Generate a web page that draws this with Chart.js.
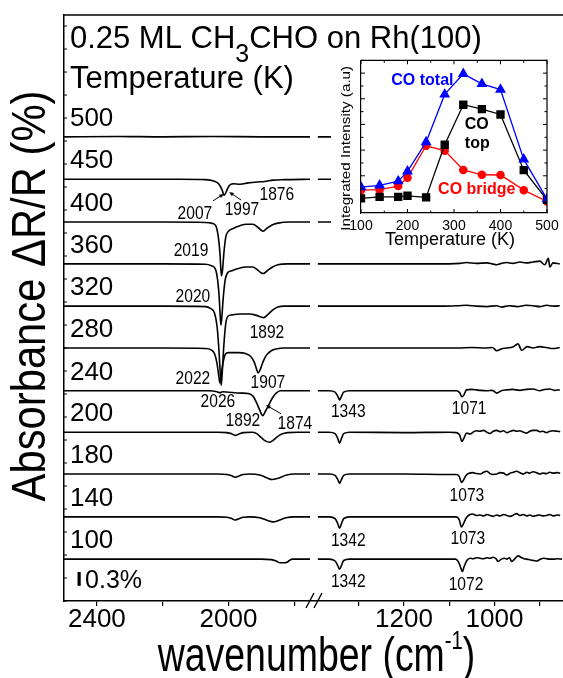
<!DOCTYPE html>
<html><head><meta charset="utf-8">
<script src="https://cdn.jsdelivr.net/npm/chart.js@4/dist/chart.umd.min.js"></script>
<style>
html,body{margin:0;padding:0;background:#fff;}
#wrap{position:relative;width:563px;height:678px;overflow:hidden;background:#fff;}
#main{position:absolute;left:0;top:0;width:563px;height:678px;}
#inset{position:absolute;left:331px;top:54px;width:232px;height:200px;background:#fff;}
</style></head><body>
<div id="wrap"><canvas id="main" width="563" height="678"></canvas><canvas id="inset" width="232" height="200"></canvas></div>
<script>
// ---------- main spectra data (wavenumber cm-1, ΔR/R % relative to each trace baseline) ----------
const temperatures = [500,450,400,360,320,280,240,200,180,140,100];
const baselines = [10.09,9.17,8.24,7.33,6.41,5.50,4.57,3.67,2.76,1.83,0.91];

const s500L = [[2500,0],[2340,0.01],[2200,0],[2050,0.01],[1900,0],[1752,0]];
const s500R = [[1390,0],[1300,0],[850,0]];
const s450L = [[2500,0],[2150,0],[2070,-0.01],[2045,-0.04],[2030,-0.1],[2020,-0.22],[2013,-0.35],[2006,-0.26],[1998,-0.14],[1985,-0.1],[1965,-0.11],[1940,-0.08],[1913,-0.06],[1890,-0.05],[1864,-0.02],[1830,-0.01],[1752,0]];
const s450R = [[1390,0],[1300,0],[850,0]];
const s400L = [[2500,0],[2200,0],[2070,-0.01],[2050,-0.03],[2038,-0.09],[2031,-0.32],[2026,-0.67],[2023,-1.04],[2021,-1.17],[2018,-1.04],[2014,-0.68],[2008,-0.32],[2001,-0.21],[1986,-0.14],[1965,-0.08],[1945,-0.05],[1926,-0.05],[1910,-0.12],[1900,-0.18],[1895,-0.2],[1882,-0.13],[1866,-0.06],[1853,-0.03],[1813,0],[1752,0]];
const s400R = [[1390,0],[1300,0],[850,0]];
const s360L = [[2500,0],[2200,0],[2070,-0.01],[2052,-0.04],[2040,-0.11],[2033,-0.35],[2028,-0.75],[2025,-1.15],[2023,-1.33],[2020,-1.15],[2016,-0.75],[2010,-0.35],[2003,-0.2],[1990,-0.15],[1970,-0.1],[1945,-0.07],[1926,-0.07],[1912,-0.13],[1900,-0.2],[1894,-0.21],[1882,-0.15],[1866,-0.07],[1850,-0.02],[1820,0],[1752,0]];
const s360R = [[1390,0],[1200,0],[1100,0],[1076,0.01],[1062,0.03],[1040,0.01],[1017,0.02],[1005,0],[995,-0.02],[985,0.01],[973,0.03],[960,0.01],[944,0.04],[930,0.02],[915,0.04],[900,0.06],[889,-0.02],[881,0.12],[878,-0.07],[871,0.02],[856,0]];
const s320L = [[2500,0],[2200,0],[2070,-0.01],[2055,-0.05],[2043,-0.14],[2035,-0.42],[2029,-0.95],[2025,-1.45],[2022,-1.72],[2019,-1.45],[2015,-0.95],[2009,-0.42],[2002,-0.22],[1990,-0.19],[1965,-0.17],[1935,-0.17],[1915,-0.2],[1900,-0.24],[1893,-0.25],[1880,-0.18],[1865,-0.08],[1850,-0.02],[1830,0],[1752,0]];
const s320R = [[1390,0],[1200,0],[1110,0],[1080,0.01],[1062,0.02],[1040,0],[1017,-0.01],[995,0.01],[985,-0.02],[968,0.01],[950,-0.01],[930,0.02],[915,0.01],[900,-0.01],[885,0.02],[870,0],[856,0.01]];
const s280L = [[2500,0],[2200,0],[2070,-0.01],[2053,-0.04],[2042,-0.13],[2035,-0.33],[2030,-0.58],[2026,-0.76],[2022,-0.58],[2016,-0.3],[2009,-0.13],[2000,-0.1],[1970,-0.1],[1948,-0.12],[1933,-0.18],[1922,-0.3],[1915,-0.45],[1910,-0.54],[1903,-0.46],[1895,-0.3],[1885,-0.16],[1870,-0.06],[1855,-0.02],[1830,0],[1752,0]];
const s280R = [[1390,0],[1200,0],[1080,0],[1050,0.01],[1020,0],[1005,0.01],[995,-0.06],[985,-0.02],[973,0],[960,0.02],[948,0.09],[940,-0.05],[928,0.03],[915,0],[900,0.03],[885,0.01],[871,-0.01],[856,0.01]];
const s240L = [[2500,0],[2200,0],[2060,0],[2035,-0.02],[2026,-0.04],[2018,-0.02],[2000,-0.03],[1960,-0.05],[1940,-0.06],[1925,-0.12],[1914,-0.27],[1905,-0.42],[1896,-0.54],[1888,-0.45],[1879,-0.33],[1870,-0.2],[1864,-0.13],[1855,-0.05],[1843,0],[1752,0]];
const s240R = [[1390,0],[1365,0],[1352,-0.03],[1346,-0.12],[1342,-0.2],[1338,-0.12],[1333,-0.03],[1320,0],[1200,0],[1100,0],[1084,0],[1077,-0.04],[1072,-0.13],[1068,-0.1],[1062,0.02],[1052,0.03],[1040,0.02],[1032,0.01],[1017,0.0],[1005,0.01],[995,-0.05],[985,0.0],[973,0.02],[960,0.03],[944,0.01],[930,0.03],[915,0.04],[900,0.0],[890,0.03],[878,0.04],[868,0.01],[856,0.02]];
const s200L = [[2500,0],[2200,0],[2030,0],[2005,-0.01],[1992,-0.03],[1980,-0.07],[1968,-0.04],[1955,-0.01],[1930,0],[1914,-0.03],[1900,-0.12],[1888,-0.19],[1876,-0.22],[1865,-0.18],[1852,-0.1],[1838,-0.04],[1820,-0.01],[1790,0],[1752,0]];
const s200R = [[1390,0],[1365,0],[1352,-0.03],[1346,-0.14],[1342,-0.24],[1338,-0.14],[1333,-0.03],[1320,0],[1200,-0.01],[1100,0],[1084,-0.01],[1077,-0.06],[1072,-0.2],[1068,-0.14],[1062,-0.02],[1054,-0.04],[1046,0.01],[1040,0.03],[1032,0.02],[1024,0.04],[1017,0.0],[1010,-0.03],[1003,0.02],[995,0.04],[988,0.01],[980,0.03],[973,-0.01],[965,0.02],[958,0.04],[951,0.02],[944,0.03],[936,0.0],[929,-0.02],[922,0.02],[915,0.04],[907,0.04],[900,0.01],[893,0.02],[885,-0.01],[878,0.02],[870,0.03],[862,0.02],[855,0.01]];
const s180L = [[2500,0],[2200,0],[2030,0],[2005,-0.01],[1992,-0.03],[1980,-0.07],[1968,-0.04],[1955,-0.01],[1935,0],[1905,-0.02],[1884,-0.08],[1867,-0.12],[1849,-0.09],[1823,-0.02],[1800,0],[1752,0]];
const s180R = [[1390,0],[1365,0],[1352,-0.03],[1346,-0.12],[1342,-0.2],[1338,-0.12],[1333,-0.03],[1320,0],[1200,0],[1100,-0.01],[1085,-0.01],[1078,-0.05],[1073,-0.18],[1069,-0.14],[1063,-0.03],[1056,0.02],[1048,0.03],[1040,0.01],[1032,0.0],[1024,0.04],[1017,0.06],[1010,0.01],[1003,-0.01],[995,0.0],[988,0.03],[980,0.02],[973,-0.02],[965,0.02],[958,0.04],[951,0.06],[944,0.03],[936,0.0],[929,0.04],[922,0.02],[915,0.05],[907,0.03],[900,0.0],[893,0.02],[885,0.01],[878,0.04],[870,0.02],[862,0.03],[855,0.02]];
const s140L = [[2500,0],[2200,0],[2030,0],[2005,-0.01],[1992,-0.03],[1980,-0.07],[1968,-0.04],[1955,-0.01],[1935,0],[1905,-0.02],[1885,-0.07],[1864,-0.11],[1848,-0.08],[1825,-0.02],[1800,0],[1752,0]];
const s140R = [[1390,0],[1365,0],[1352,-0.04],[1346,-0.15],[1342,-0.25],[1338,-0.15],[1333,-0.04],[1320,0],[1200,0],[1100,0],[1085,0],[1078,-0.06],[1073,-0.22],[1069,-0.16],[1063,-0.03],[1056,0.04],[1048,0.06],[1040,0.03],[1032,0.04],[1024,0.02],[1017,0.05],[1010,0.03],[1003,0.01],[995,0.04],[988,0.02],[980,0.05],[973,0.03],[965,0.01],[958,0.04],[951,0.07],[944,0.03],[936,0.05],[929,0.02],[922,0.04],[915,0.01],[907,0.03],[900,0.04],[893,0.02],[885,0.03],[878,0.05],[870,0.02],[862,0.04],[855,0.03]];
const s100L = [[2500,0],[2200,0],[1900,0],[1870,-0.01],[1855,-0.04],[1843,-0.08],[1832,-0.08],[1822,-0.07],[1815,-0.03],[1805,0],[1752,0]];
const s100R = [[1390,0],[1365,0],[1352,-0.04],[1346,-0.14],[1342,-0.22],[1338,-0.14],[1333,-0.03],[1320,0],[1200,0],[1100,0],[1086,0],[1079,-0.07],[1074,-0.2],[1071,-0.27],[1067,-0.16],[1061,-0.03],[1054,0.02],[1047,0.01],[1040,0.03],[1032,0.02],[1025,0.01],[1017,0.03],[1010,0.02],[1003,0.04],[997,0.01],[992,-0.05],[985,0.0],[978,0.02],[973,0.0],[967,0.03],[962,-0.05],[955,0.01],[948,0.07],[940,0.03],[935,0.01],[929,0.0],[920,-0.02],[913,-0.03],[907,-0.04],[900,-0.01],[892,0.02],[885,0.01],[878,0.0],[870,0.0],[862,0.01],[851,0.0]];

const leftSpectra = [s500L,s450L,s400L,s360L,s320L,s280L,s240L,s200L,s180L,s140L,s100L];
const rightSpectra = [s500R,s450R,s400R,s360R,s320R,s280R,s240R,s200R,s180R,s140R,s100R];

// axis ticks (wavenumber) and their labels
const xTickWaves = [2400,2200,2000,1800,1300,1200,1100,1000,900];
const xTickLabels = ["2400","","2000","","","1200","","1000",""];

// scale bar: 0.3 % ΔR/R
const scaleBar = [[2454,0.33],[2454,0.63]];

// peak annotations [text, wavenumber, ΔR/R value of text baseline]
const peakNotes = [
 ["2007",2102,8.31],["1997",1959,8.40],["1876",1853,8.72],
 ["2019",2114,7.50],["2020",2108,6.50],["1892",1883,5.72],
 ["2022",2108,4.72],["1907",1880,4.63],["2026",2032,4.22],
 ["1892",1956,3.81],["1874",1798,3.74],
 ["1343",1323,4.00],["1071",1056,4.07],["1073",1061,2.18],
 ["1342",1323,1.20],["1073",1059,1.24],["1342",1323,0.31],["1072",1063,0.24]
];
// arrows [fromW, fromY, toW, toY]
const arrowNotes = [[2047,8.70,2014,8.85],[1962,8.72,1998,8.89],[1840,4.07,1886,4.26]];

// ---------- inset data ----------
const insetT = [100,140,180,200,240,280,320,360,400,450,500];
const coTotal = [0.56,0.63,0.79,1.17,2.31,4.17,4.97,4.58,4.36,1.64,0.09];
const coTop = [0.12,0.18,0.18,0.22,0.16,2.21,3.77,3.60,3.39,1.22,0.06];
const coBridge = [0.44,0.46,0.60,0.92,2.17,1.98,1.23,1.04,1.03,0.44,0.00];

// ---------- broken axis mapping ----------
const BREAK_U = 760;
function mapW(w){ return w >= 1600 ? 2500 - w : 1033.4 + (1200 - w) * 1.377; }

const FONT = '"Liberation Sans", Arial, Helvetica, sans-serif';
function setFont(ctx,size,bold){ ctx.font = (bold?'bold ':'') + size + 'px ' + FONT; }
function drawText(ctx,s,x,y,o){
  o = o||{};
  ctx.save(); setFont(ctx,o.size||16,o.bold);
  ctx.fillStyle = o.color||'#000';
  ctx.textBaseline = o.base||'alphabetic';
  ctx.textAlign = o.align||'left';
  ctx.translate(x,y); if(o.rot) ctx.rotate(o.rot); ctx.scale(o.sx||1,1);
  ctx.fillText(s,0,0); ctx.restore();
}
function drawRuns(ctx,runs,x,y,o){
  o = o||{}; const sx = o.sx||1;
  ctx.save(); ctx.translate(x,y); if(o.rot) ctx.rotate(o.rot);
  let total = 0; const ws = runs.map(r=>{ setFont(ctx,r.size); const w = ctx.measureText(r.t).width*sx; total += w; return w; });
  let cx = o.align==='center' ? -total/2 : 0;
  ctx.fillStyle='#000'; ctx.textBaseline='alphabetic'; ctx.textAlign='left';
  runs.forEach((r,i)=>{ ctx.save(); setFont(ctx,r.size); ctx.translate(cx, r.dy||0); ctx.scale(sx,1); ctx.fillText(r.t,0,0); ctx.restore(); cx += ws[i]; });
  ctx.restore();
}
function line(ctx,x1,y1,x2,y2){ ctx.beginPath(); ctx.moveTo(x1,y1); ctx.lineTo(x2,y2); ctx.stroke(); }

// ---------- main chart ----------
const datasets = [];
temperatures.forEach((T,i)=>{
  [leftSpectra[i], rightSpectra[i]].forEach(seg=>{
    datasets.push({ label:String(T), data: seg.map(([w,v])=>({x:mapW(w), y:baselines[i]+v})),
      borderColor:'#000', borderWidth:1.6, pointRadius:0, cubicInterpolationMode:'monotone', fill:false });
  });
});
datasets.push({ label:'scale', data: scaleBar.map(([w,v])=>({x:mapW(w),y:v})), borderColor:'#000', borderWidth:3.2, pointRadius:0, tension:0 });

const mainDecor = {
  id:'mainDecor',
  afterDraw(chart){
    const {ctx, chartArea:a, scales:{x,y}} = chart;
    ctx.save(); ctx.strokeStyle='#000';
    ctx.lineWidth=1.5; line(ctx,a.left,a.top,a.right,a.top);
    ctx.lineWidth=1;
    for(let v=0; v<=12.5; v+=0.5){ const py=y.getPixelForValue(v); line(ctx,a.left,py,a.left+3,py); }
    const bx = x.getPixelForValue(BREAK_U);
    ctx.lineWidth=1.4;
    [-4,4].forEach(d=> line(ctx,bx+d-4,a.bottom+7,bx+d+4,a.bottom-8));
    x.ticks.forEach((t,i)=>{ if(xTickLabels[i]) drawText(ctx,xTickLabels[i],x.getPixelForValue(t.value),a.bottom+26,{size:26,align:'center'}); });
    drawRuns(ctx,[{t:'wavenumber (cm',size:48},{t:'-1',size:26,dy:-22},{t:')',size:48}], (a.left+a.right)/2+3, a.bottom+70, {align:'center',sx:0.78});
    drawText(ctx,'Absorbance ΔR/R (%)',32,296,{size:48,sx:0.87,rot:-Math.PI/2,align:'center',base:'middle'});
    const lx = x.getPixelForValue(mapW(2482));
    drawRuns(ctx,[{t:'0.25 ML CH',size:31},{t:'3',size:25,dy:14},{t:'CHO on Rh(100)',size:31}], lx, y.getPixelForValue(12.02), {});
    drawText(ctx,'Temperature (K)', lx, y.getPixelForValue(11.15), {size:31});
    temperatures.forEach((T,i)=> drawText(ctx,String(T), lx, y.getPixelForValue(baselines[i]+0.245), {size:26}));
    drawText(ctx,'0.3%', x.getPixelForValue(mapW(2436)), y.getPixelForValue(0.28), {size:25});
    peakNotes.forEach(([s,w,v])=> drawText(ctx,s,x.getPixelForValue(mapW(w)),y.getPixelForValue(v),{size:19,sx:0.82,align:'center'}));
    ctx.lineWidth=1; ctx.fillStyle='#000';
    arrowNotes.forEach(([w1,v1,w2,v2])=>{
      const x1=x.getPixelForValue(mapW(w1)), y1=y.getPixelForValue(v1), x2=x.getPixelForValue(mapW(w2)), y2=y.getPixelForValue(v2);
      const ang=Math.atan2(y2-y1,x2-x1), h=5;
      line(ctx,x1,y1,x2-Math.cos(ang)*h*0.6,y2-Math.sin(ang)*h*0.6);
      ctx.beginPath(); ctx.moveTo(x2,y2);
      ctx.lineTo(x2-h*Math.cos(ang-0.4),y2-h*Math.sin(ang-0.4));
      ctx.lineTo(x2-h*Math.cos(ang+0.4),y2-h*Math.sin(ang+0.4)); ctx.closePath(); ctx.fill();
    });
    ctx.restore();
  }
};

new Chart(document.getElementById('main'),{
  type:'line',
  data:{datasets},
  options:{
    responsive:false, animation:false, devicePixelRatio:1,
    layout:{padding:{top:15,right:0,left:0,bottom:0}},
    plugins:{legend:{display:false},tooltip:{enabled:false}},
    scales:{
      x:{type:'linear',min:0,max:1517,
        afterBuildTicks(s){ s.ticks = xTickWaves.map(w=>({value:mapW(w)})); },
        afterFit(s){ s.height=77; },
        ticks:{display:false},
        grid:{drawOnChartArea:false,drawTicks:true,tickLength:5,color:'#000',lineWidth:1.2},
        border:{color:'#000',width:1.5}},
      y:{type:'linear',min:0,max:12.74,
        afterFit(s){ s.width=64; },
        ticks:{display:false},
        grid:{drawOnChartArea:false,drawTicks:false},
        border:{color:'#000',width:1.5}}
    }
  },
  plugins:[mainDecor]
});

// ---------- inset chart ----------
const insetDecor = {
  id:'insetDecor',
  afterDraw(chart){
    const {ctx, chartArea:a, scales:{x,y}} = chart;
    ctx.save(); ctx.strokeStyle='#000'; ctx.lineWidth=1.2;
    ctx.beginPath(); ctx.moveTo(a.left,a.top); ctx.lineTo(a.right,a.top); ctx.lineTo(a.right,a.bottom); ctx.stroke();
    ctx.lineWidth=1;
    for(let t=100;t<=500;t+=50){ const px=x.getPixelForValue(t), L=t%100===0?4:2.5; line(ctx,px,a.bottom,px,a.bottom-L); line(ctx,px,a.top,px,a.top+L); }
    for(let v=0;v<=5.5;v+=0.5){ const py=y.getPixelForValue(v), L=Number.isInteger(v)?4:2.5; line(ctx,a.left,py,a.left+L,py); line(ctx,a.right,py,a.right-L,py); }
    for(let t=100;t<=500;t+=100) drawText(ctx,String(t),x.getPixelForValue(t),a.bottom+17,{size:14,align:'center'});
    drawText(ctx,'Temperature (K)',(a.left+a.right)/2-4,a.bottom+31.5,{size:18,align:'center'});
    drawText(ctx,'Integrated Intensity (a.u)',a.left-15,a.top+88,{size:13,sx:1.17,rot:-Math.PI/2,align:'center',base:'middle'});
    drawText(ctx,'CO total',x.getPixelForValue(232),y.getPixelForValue(4.55),{size:16,bold:true,color:'#0000ff',align:'center'});
    drawText(ctx,'CO',x.getPixelForValue(349),y.getPixelForValue(2.84),{size:16,bold:true,align:'center'});
    drawText(ctx,'top',x.getPixelForValue(350),y.getPixelForValue(2.08),{size:16,bold:true,align:'center'});
    drawText(ctx,'CO bridge',x.getPixelForValue(349),y.getPixelForValue(0.28),{size:16,bold:true,color:'#ff0000',align:'center'});
    ctx.restore();
  }
};
new Chart(document.getElementById('inset'),{
  type:'line',
  data:{datasets:[
    {label:'CO total',data:insetT.map((t,i)=>({x:t,y:coTotal[i]})),borderColor:'#0000ff',backgroundColor:'#0000ff',pointStyle:'triangle',pointRadius:5,borderWidth:1.3,tension:0},
    {label:'CO top',data:insetT.map((t,i)=>({x:t,y:coTop[i]})),borderColor:'#000',backgroundColor:'#000',pointStyle:'rect',pointRadius:5,borderWidth:1.3,tension:0},
    {label:'CO bridge',data:insetT.map((t,i)=>({x:t,y:coBridge[i]})),borderColor:'#ff0000',backgroundColor:'#ff0000',pointStyle:'circle',pointRadius:3.6,borderWidth:1.3,tension:0}
  ]},
  options:{
    responsive:false, animation:false, devicePixelRatio:1,
    layout:{padding:{top:3,right:16,left:0,bottom:0}},
    plugins:{legend:{display:false},tooltip:{enabled:false}},
    scales:{
      x:{type:'linear',min:100,max:500,afterFit(s){s.height=41;},ticks:{display:false},grid:{drawOnChartArea:false,drawTicks:false},border:{color:'#000',width:1.2}},
      y:{type:'linear',min:-0.45,max:5.5,afterFit(s){s.width=30;},ticks:{display:false},grid:{drawOnChartArea:false,drawTicks:false},border:{color:'#000',width:1.2}}
    }
  },
  plugins:[insetDecor]
});
</script>
</body></html>
